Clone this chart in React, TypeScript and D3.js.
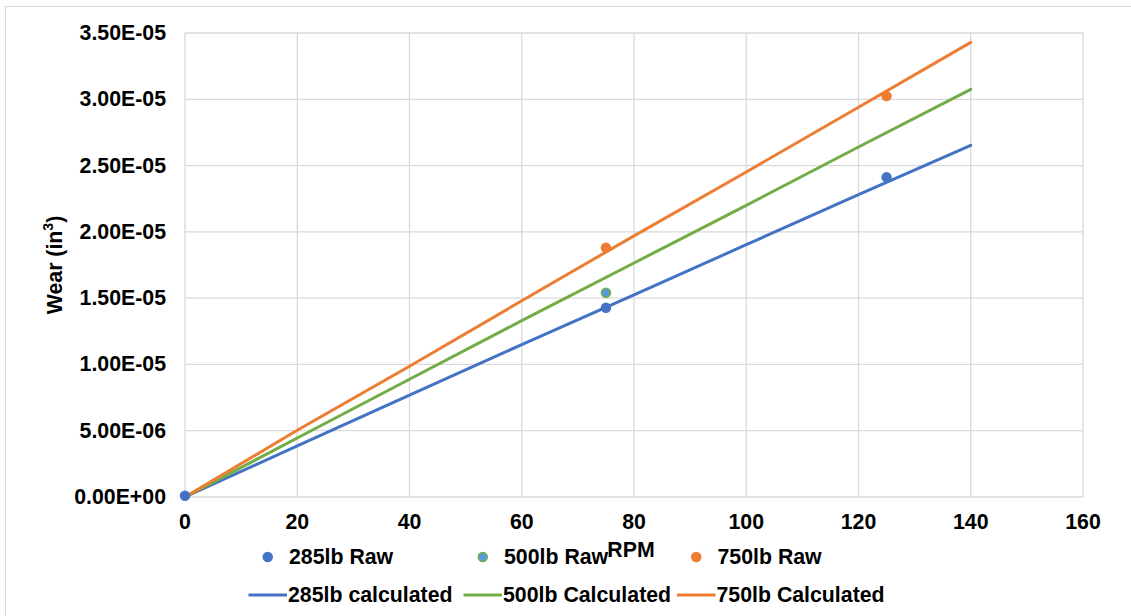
import React from "react";
import * as d3 from "d3";

// RPM values at which the measured (raw) wear was recorded
const raw285X = [0, 75, 125];
const raw285Y = [1.0e-7, 1.428e-5, 2.411e-5];
const raw500X = [75];
const raw500Y = [1.541e-5];
const raw750X = [75, 125];
const raw750Y = [1.88e-5, 3.024e-5];

// Calculated wear curves
const calcX = [0, 20, 40, 60, 80, 100, 120, 140];
const calc285Y = [0, 3.85e-6, 7.69e-6, 1.15e-5, 1.525e-5, 1.903e-5, 2.28e-5, 2.652e-5];
const calc500Y = [0, 4.45e-6, 8.88e-6, 1.33e-5, 1.765e-5, 2.2e-5, 2.64e-5, 3.075e-5];
const calc750Y = [0, 5.04e-6, 9.86e-6, 1.48e-5, 1.97e-5, 2.452e-5, 2.94e-5, 3.429e-5];

const xTicks = [0, 20, 40, 60, 80, 100, 120, 140, 160];
const yTicks = [0, 5e-6, 1e-5, 1.5e-5, 2e-5, 2.5e-5, 3e-5, 3.5e-5];
const yTickLabels = [
  "0.00E+00",
  "5.00E-06",
  "1.00E-05",
  "1.50E-05",
  "2.00E-05",
  "2.50E-05",
  "3.00E-05",
  "3.50E-05",
];

const BLUE = "#4472C4";
const GREEN = "#70AD47";
const ORANGE = "#ED7D31";
const LIGHTBLUE = "#5B9BD5";
const GRID = "#d9d9d9";
const FONT = "'Liberation Sans', Arial, sans-serif";

export default function App() {
  const W = 1131;
  const H = 616;
  const left = 185;
  const right = 1083;
  const top = 33;
  const bottom = 497;

  const x = d3.scaleLinear().domain([0, 160]).range([left, right]);
  const y = d3.scaleLinear().domain([0, 3.5e-5]).range([bottom, top]);

  const line = d3
    .line<[number, number]>()
    .x((d) => x(d[0]))
    .y((d) => y(d[1]));

  const calcSeries = [
    { ys: calc285Y, color: BLUE },
    { ys: calc500Y, color: GREEN },
    { ys: calc750Y, color: ORANGE },
  ];

  const rawSeries = [
    { xs: raw285X, ys: raw285Y, fill: BLUE, stroke: BLUE },
    { xs: raw500X, ys: raw500Y, fill: LIGHTBLUE, stroke: GREEN },
    { xs: raw750X, ys: raw750Y, fill: ORANGE, stroke: ORANGE },
  ];

  const fs = 21.3;

  // legend layout: three columns, markers on the first row, lines on the second
  const legendCols = [248.5, 463.5, 677];
  const slot = 38.5;
  const row1 = 557;
  const row2 = 595;

  const rawLegend = [
    { label: "285lb Raw", fill: BLUE, stroke: BLUE },
    { label: "500lb Raw", fill: LIGHTBLUE, stroke: GREEN },
    { label: "750lb Raw", fill: ORANGE, stroke: ORANGE },
  ];
  const calcLegend = [
    { label: "285lb calculated", color: BLUE },
    { label: "500lb Calculated", color: GREEN },
    { label: "750lb Calculated", color: ORANGE },
  ];

  return (
    <svg
      width={W}
      height={H}
      style={{ position: "absolute", left: 0, top: 0, background: "#fff" }}
      fontFamily={FONT}
    >
      <rect x={0} y={0} width={W} height={H} fill="#fff" />
      <rect x={5.5} y={6.5} width={1300} height={800} fill="none" stroke={GRID} strokeWidth={1} />

      {/* gridlines */}
      {yTicks.map((t) => (
        <line key={"gy" + t} x1={left} x2={right} y1={y(t)} y2={y(t)} stroke={GRID} strokeWidth={1.3} />
      ))}
      {xTicks.map((t) => (
        <line key={"gx" + t} x1={x(t)} x2={x(t)} y1={top} y2={bottom} stroke={GRID} strokeWidth={1.3} />
      ))}

      {/* y tick labels */}
      {yTicks.map((t, i) => (
        <text
          key={"ty" + t}
          x={166}
          y={y(t)}
          textAnchor="end"
          dominantBaseline="central"
          fontSize={fs}
          fontWeight="bold"
          fill="#000"
        >
          {yTickLabels[i]}
        </text>
      ))}

      {/* x tick labels */}
      {xTicks.map((t) => (
        <text
          key={"tx" + t}
          x={x(t)}
          y={522}
          textAnchor="middle"
          dominantBaseline="central"
          fontSize={fs}
          fontWeight="bold"
          fill="#000"
        >
          {t}
        </text>
      ))}

      {/* axis titles */}
      <text
        transform={`translate(55, ${(top + bottom) / 2}) rotate(-90)`}
        textAnchor="middle"
        dominantBaseline="central"
        fontSize={fs}
        fontWeight="bold"
      >
        Wear (in<tspan dy={-7} fontSize={14}>3</tspan>
        <tspan dy={7}>)</tspan>
      </text>
      <text x={631} y={550} textAnchor="middle" dominantBaseline="central" fontSize={fs} fontWeight="bold">
        RPM
      </text>

      {/* calculated curves */}
      {calcSeries.map((s, i) => (
        <path
          key={"c" + i}
          d={line(calcX.map((v, j) => [v, s.ys[j]] as [number, number])) || ""}
          fill="none"
          stroke={s.color}
          strokeWidth={3}
          strokeLinecap="round"
          strokeLinejoin="round"
        />
      ))}

      {/* raw measurements */}
      {rawSeries.map((s, i) =>
        s.xs.map((v, j) => (
          <circle
            key={"r" + i + "-" + j}
            cx={x(v)}
            cy={y(s.ys[j])}
            r={4.5}
            fill={s.fill}
            stroke={s.stroke}
            strokeWidth={1.5}
          />
        ))
      )}

      {/* legend */}
      <g fontSize={fs} fontWeight="bold">
        {rawLegend.map((item, i) => (
          <g key={"lr" + i}>
            <circle
              cx={legendCols[i] + slot / 2}
              cy={row1}
              r={4.5}
              fill={item.fill}
              stroke={item.stroke}
              strokeWidth={1.5}
            />
            <text x={legendCols[i] + slot + 2} y={row1} dominantBaseline="central">
              {item.label}
            </text>
          </g>
        ))}
        {calcLegend.map((item, i) => (
          <g key={"lc" + i}>
            <line
              x1={legendCols[i]}
              x2={legendCols[i] + slot}
              y1={row2}
              y2={row2}
              stroke={item.color}
              strokeWidth={3}
            />
            <text x={legendCols[i] + slot + 1} y={row2} dominantBaseline="central">
              {item.label}
            </text>
          </g>
        ))}
      </g>
    </svg>
  );
}
